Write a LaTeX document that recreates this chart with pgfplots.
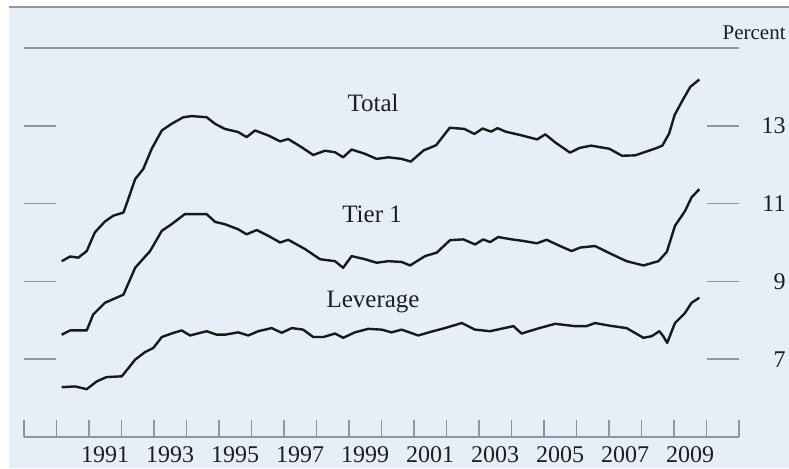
\documentclass[border=0pt]{standalone}
\usepackage{pgfplots}
\pgfplotsset{compat=1.18}
\usepackage{fontspec}
\setmainfont{Liberation Serif}
\definecolor{bgblue}{RGB}{230,238,248}
\definecolor{axgray}{RGB}{140,150,165}
\definecolor{linec}{RGB}{25,25,25}
\definecolor{txt}{RGB}{30,30,30}

\pgfplotstableread{
x y
1990.16 9.52
1990.42 9.64
1990.67 9.61
1990.93 9.78
1991.18 10.26
1991.49 10.54
1991.75 10.69
1992.06 10.77
1992.21 11.12
1992.42 11.63
1992.67 11.89
1992.93 12.41
1993.24 12.88
1993.54 13.05
1993.90 13.22
1994.16 13.25
1994.62 13.22
1994.88 13.05
1995.18 12.92
1995.59 12.84
1995.85 12.71
1996.11 12.88
1996.52 12.75
1996.88 12.60
1997.13 12.66
1997.54 12.45
1997.90 12.25
1998.26 12.36
1998.57 12.32
1998.82 12.19
1999.08 12.39
1999.49 12.28
1999.85 12.15
2000.21 12.19
2000.62 12.15
2000.90 12.08
2001.30 12.37
2001.68 12.50
2002.10 12.95
2002.55 12.92
2002.86 12.79
2003.11 12.93
2003.37 12.85
2003.57 12.94
2003.82 12.85
2004.33 12.75
2004.79 12.65
2005.04 12.78
2005.35 12.57
2005.80 12.31
2006.09 12.43
2006.45 12.49
2007.01 12.41
2007.40 12.23
2007.80 12.24
2008.44 12.42
2008.64 12.49
2008.85 12.80
2009.02 13.28
2009.28 13.68
2009.50 14.00
2009.78 14.19
}\total

\pgfplotstableread{
x y
1990.16 7.63
1990.42 7.74
1990.93 7.74
1991.13 8.15
1991.49 8.45
1992.06 8.66
1992.42 9.35
1992.88 9.78
1993.24 10.30
1993.54 10.47
1993.95 10.73
1994.62 10.73
1994.88 10.53
1995.18 10.47
1995.59 10.34
1995.85 10.21
1996.16 10.32
1996.52 10.17
1996.88 10.00
1997.13 10.07
1997.65 9.83
1998.11 9.57
1998.57 9.52
1998.82 9.35
1999.08 9.65
1999.49 9.57
1999.85 9.48
2000.21 9.52
2000.62 9.50
2000.88 9.41
2001.34 9.65
2001.70 9.74
2002.11 10.06
2002.52 10.08
2002.88 9.95
2003.13 10.08
2003.34 10.01
2003.59 10.14
2004.01 10.08
2004.36 10.04
2004.78 9.98
2005.08 10.07
2005.44 9.93
2005.85 9.78
2006.11 9.87
2006.57 9.91
2007.03 9.72
2007.54 9.52
2008.06 9.41
2008.52 9.52
2008.78 9.76
2009.03 10.43
2009.34 10.81
2009.54 11.16
2009.78 11.37
}\tierone

\pgfplotstableread{
x y
1990.16 6.28
1990.57 6.30
1990.93 6.23
1991.24 6.43
1991.54 6.54
1992.01 6.56
1992.42 6.99
1992.72 7.18
1992.98 7.29
1993.24 7.57
1993.54 7.66
1993.85 7.74
1994.11 7.61
1994.62 7.72
1994.93 7.63
1995.18 7.63
1995.59 7.69
1995.90 7.61
1996.21 7.72
1996.62 7.80
1996.93 7.68
1997.24 7.80
1997.59 7.76
1997.90 7.57
1998.21 7.57
1998.57 7.66
1998.82 7.55
1999.18 7.69
1999.59 7.78
2000.01 7.76
2000.31 7.69
2000.62 7.76
2001.13 7.61
2001.50 7.70
2001.95 7.80
2002.47 7.93
2002.88 7.76
2003.34 7.72
2004.06 7.85
2004.31 7.66
2004.82 7.79
2005.34 7.91
2005.95 7.85
2006.31 7.85
2006.57 7.93
2007.03 7.86
2007.54 7.80
2008.06 7.55
2008.31 7.59
2008.55 7.72
2008.67 7.59
2008.79 7.42
2009.03 7.93
2009.34 8.19
2009.54 8.45
2009.78 8.58
}\leverage

\begin{document}
\begin{tikzpicture}
\path[use as bounding box] (-12pt,-15.5pt) rectangle (382.5pt,218.5pt);
\fill[white] (-12pt,-15.5pt) rectangle (382.5pt,218.5pt);
\fill[bgblue] (-7.5pt,-15.5pt) rectangle (382.5pt,215pt);
\draw[axgray, line width=0.8pt] (-7.5pt,215pt) -- (382.5pt,215pt);
\begin{axis}[
  at={(0,0)}, anchor=south west,
  scale only axis, width=357.5pt, height=194.5pt,
  xmin=1989, xmax=2011, ymin=5, ymax=15,
  separate axis lines,
  x axis line style={axgray, line width=0.9pt},
  y axis line style={draw=none},
  tick style={axgray, line width=0.8pt},
  major tick length=8.5pt,
  xtick={1989,...,2011},
  xtick pos=lower,
  x tick label as interval,
  xticklabels={,,1991,,1993,,1995,,1997,,1999,,2001,,2003,,2005,,2007,,2009,},
  xticklabel style={font=\fontsize{12}{14}\selectfont, text=txt, inner sep=0pt, anchor=north, yshift=-4.5pt},
  ytick=\empty,
  extra y ticks={7,9,11,13},
  extra y tick style={major tick length=16pt},
  yticklabel pos=right,
  yticklabel style={font=\fontsize{12}{14}\selectfont, text=txt, inner sep=0pt, anchor=east, xshift=23.5pt},
  /pgf/number format/assume math mode=true,
  clip=false,
]
\addplot[linec, line width=1.2pt, line join=round] table {\total};
\addplot[linec, line width=1.2pt, line join=round] table {\tierone};
\addplot[linec, line width=1.2pt, line join=round] table {\leverage};
\node[anchor=base, text=txt, font=\fontsize{12.5}{14}\selectfont] at (axis cs:1999.74,13.36) {Total};
\node[anchor=base, text=txt, font=\fontsize{12.5}{14}\selectfont] at (axis cs:1999.71,10.52) {Tier 1};
\node[anchor=base, text=txt, font=\fontsize{12.5}{14}\selectfont] at (axis cs:1999.74,8.33) {Leverage};
\node[anchor=base east, inner sep=0pt, text=txt, font=\fontsize{10.5}{12}\selectfont, xshift=23.5pt, yshift=4.25pt] at (rel axis cs:1,1) {Percent};
\end{axis}
\end{tikzpicture}
\end{document}
